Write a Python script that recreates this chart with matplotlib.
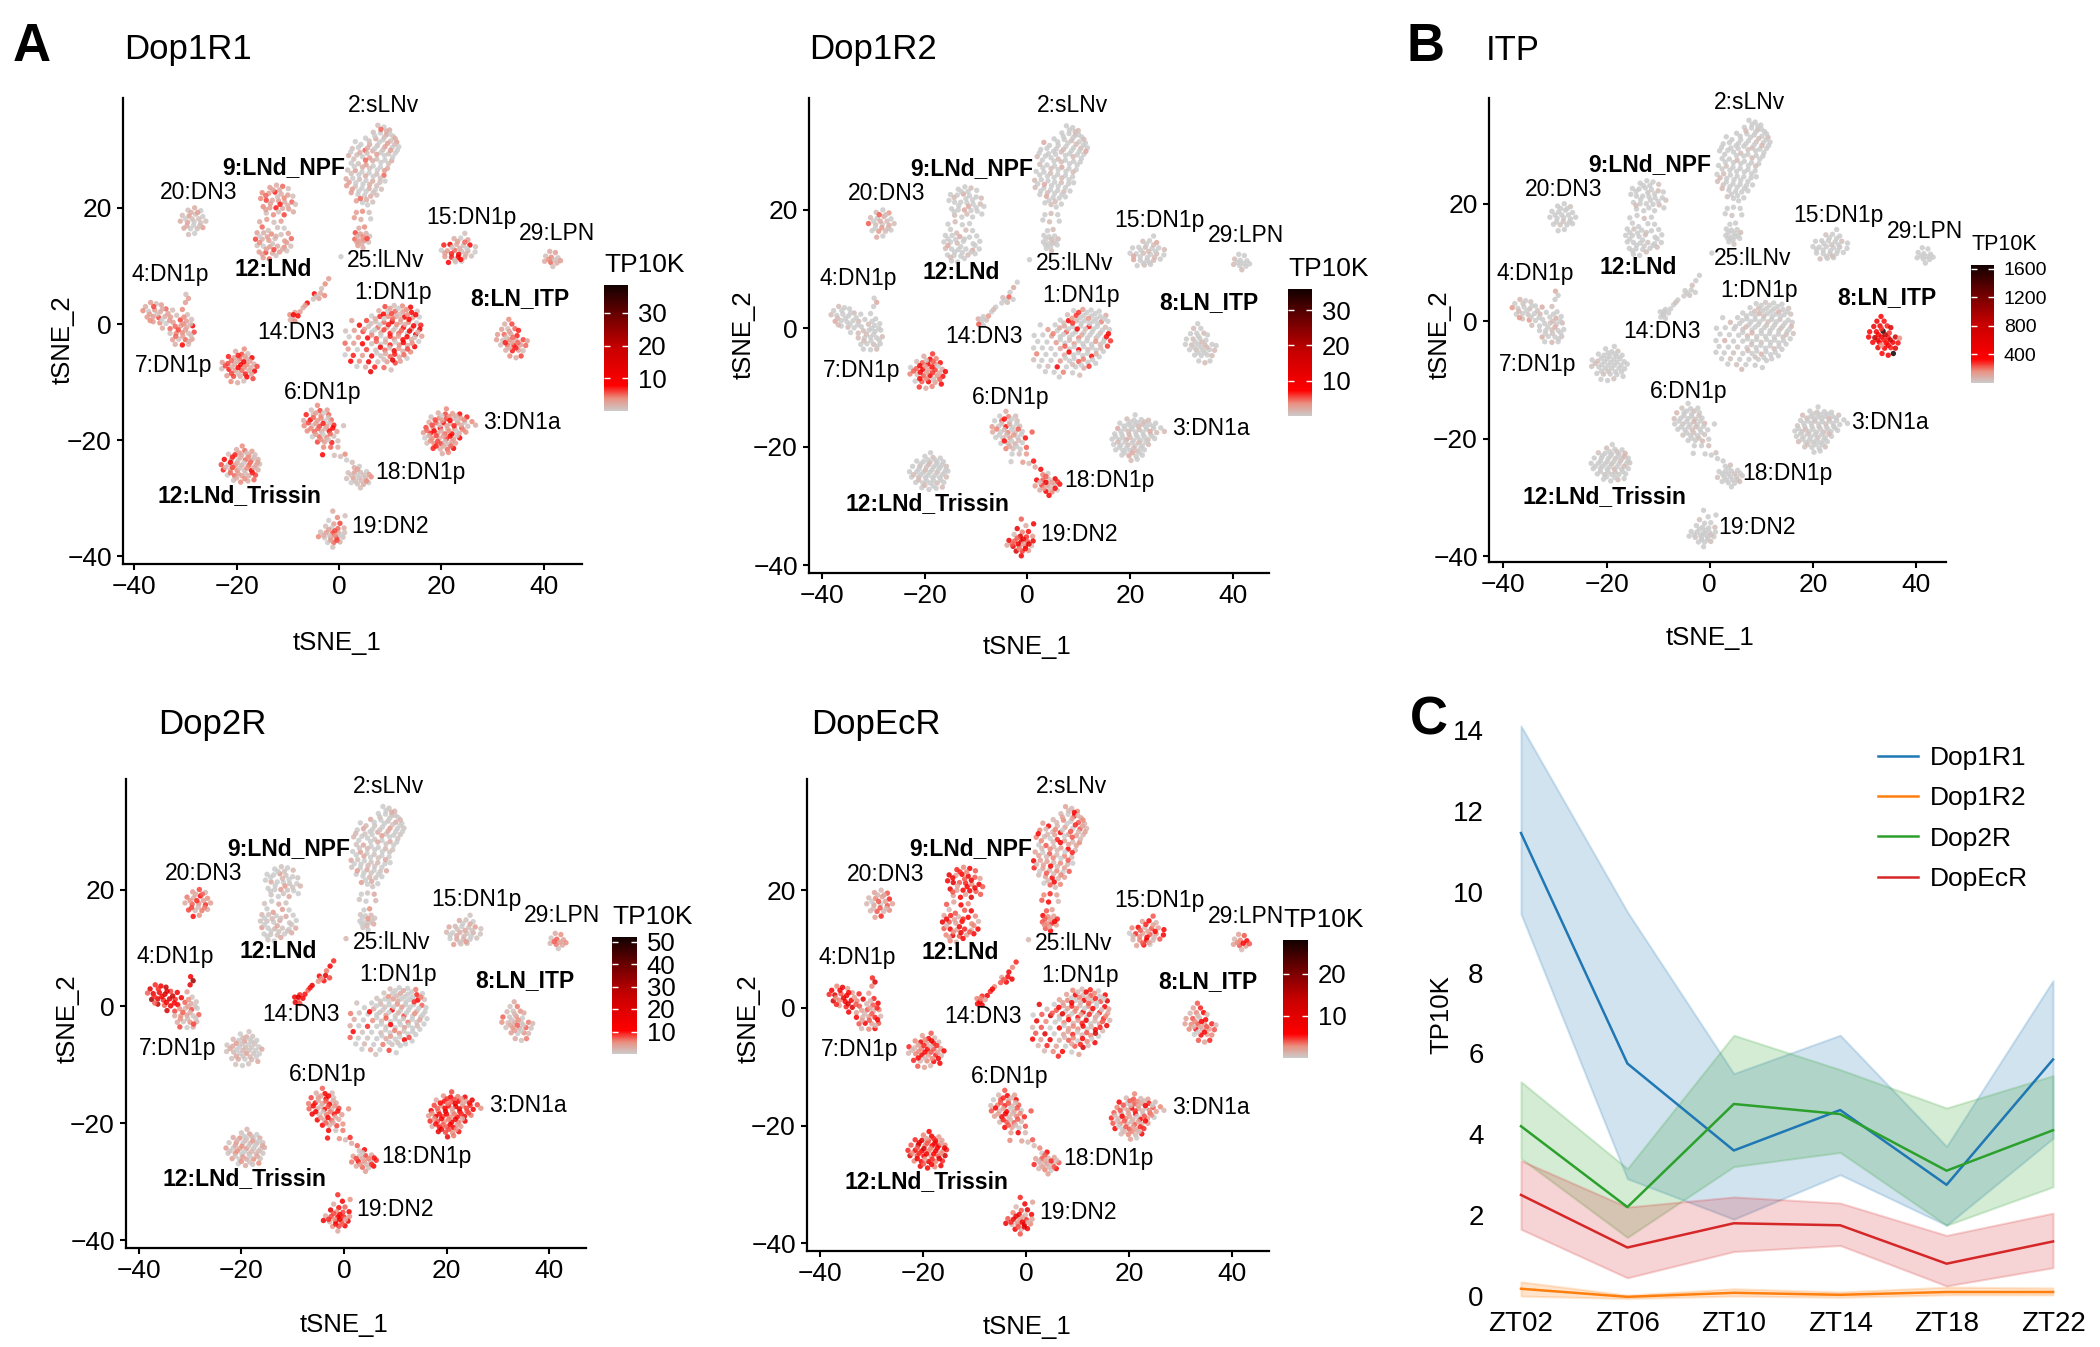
import numpy as np
import matplotlib
matplotlib.use('Agg')
import matplotlib.pyplot as plt
from matplotlib.cm import ScalarMappable
from matplotlib.colors import LinearSegmentedColormap, Normalize

plt.rcParams['font.family'] = ['Liberation Sans', 'DejaVu Sans']

W, H = 2100, 1347

# cells of each cluster
slnv = [(7.6,34.2),(8.8,33.9),(9.9,33.4),(6.7,33.0),(8.1,32.9),(9.3,32.6),(10.6,32.3),(5.2,32.0),(7.2,31.9),(8.6,31.7),(10.1,31.5),(11.3,31.3),(3.2,31.4),(4.3,30.9),(6.0,30.9),(7.5,30.7),(9.0,30.5),(10.4,30.4),(11.7,30.5),(2.6,30.2),(5.1,29.9),(6.6,29.8),(8.2,29.5),(9.7,29.3),(11.0,29.4),(1.9,29.0),(3.5,29.1),(4.6,28.8),(6.0,28.6),(7.4,28.4),(9.0,28.2),(10.3,28.1),(2.4,27.7),(3.8,27.6),(5.3,27.4),(6.7,27.2),(8.1,27.0),(9.5,26.8),(1.7,26.5),(3.2,26.4),(4.5,26.2),(5.9,26.0),(7.4,25.8),(8.8,25.6),(1.4,25.0),(2.7,25.1),(4.0,24.9),(5.3,24.7),(6.6,24.6),(8.0,24.4),(9.0,24.6),(1.5,23.8),(3.2,23.7),(4.5,23.4),(5.9,23.3),(7.1,23.1),(8.3,23.2),(2.4,22.6),(3.7,22.3),(5.0,22.1),(6.2,22.0),(7.4,22.2),(3.4,21.2),(4.6,20.9),(5.6,20.5),(6.6,21.0),
        (8.2,33.5),(9.3,33.2),(7.0,32.4),(8.9,32.2),(10.0,32.7),(11.0,31.9),(5.9,31.5),(7.9,31.3),(9.5,31.1),(10.9,30.9),(3.8,30.4),(5.6,30.3),(7.0,30.2),(8.6,30.0),(10.1,29.9),(11.4,29.9),(2.3,29.6),(4.1,29.5),(5.5,29.4),(7.4,29.2),(8.9,29.0),(10.5,28.7),(2.9,28.4),(5.2,28.2),(6.6,28.1),(8.2,27.8),(9.7,27.6),(3.0,27.1),(4.6,27.0),(6.0,26.8),(7.5,26.5),(8.9,26.4),(2.4,25.9),(3.9,25.7),(5.2,25.5),(6.7,25.4),(8.1,25.1),(2.0,24.4),(3.3,24.3),(4.7,24.1),(6.0,24.0),(7.4,23.8),(2.6,23.2),(3.9,22.9),(5.3,22.8),(6.7,22.6),(4.2,21.6),(5.4,21.4)]
llnv = [(3.4,19.2),(4.6,19.4),(5.9,19.2),(3.0,18.3),(4.3,18.0),(6.2,18.1),(3.9,16.5),(5.0,16.7),(3.2,15.7),(4.2,15.5),(5.3,15.6),(6.0,15.1),(3.1,14.6),(4.1,14.3),(5.0,14.4),(5.8,14.1),(3.7,13.5),(4.7,13.1),(0.4,11.6),(3.6,15.1),(4.7,15),(5.5,14.7),(3.5,14.1),(4.5,13.8)]
npf = [(-13.5,23.5),(-12.2,23.9),(-11,23.7),(-9.9,23.3),(-15,22.6),(-13.7,22.5),(-12.5,22.7),(-11.3,22.4),(-10,22.2),(-9,22),(-15.3,21.6),(-14.2,21.3),(-13,21.3),(-11.8,21.2),(-10.6,21),(-9.2,21),(-8.5,20.6),(-14.8,20.2),(-13.5,20),(-12.3,20),(-11,19.9),(-9.8,19.8),(-14.2,19.1),(-12.8,18.8),(-10.7,18.8),(-8.9,19.3),
       (-12.9,23.1),(-11.6,23.1),(-14.3,22.1),(-12,21.9),(-10.7,21.7),(-13.4,20.7),(-11.5,20.6),(-10,20.4),(-14.3,19.7),(-11.8,19.3)]
lnd = [(-15.5,17.6),(-14.1,18),(-12.7,17.5),(-11.3,17.7),(-15,16.7),(-12,16.6),(-10.7,16.5),(-16,15.7),(-14.7,15.7),(-13.2,15.5),(-11.3,15.4),(-9.9,15.6),(-16.3,14.6),(-15,14.6),(-13.7,14.4),(-12.5,14.7),(-10.6,14.3),(-9.3,14.7),(-16,13.5),(-14.8,13.4),(-13.5,13.3),(-12,13.4),(-10.7,13.2),(-9.4,13.4),(-15.6,12.4),(-14.3,12.3),(-13,12.2),(-11.6,12.4),(-10.2,12.6),(-14.8,11.4),(-13.6,11.2),
       (-13.8,16.1),(-15.5,15.1),(-14,15),(-12.3,15.1),(-15.5,14),(-13,13.8),(-14.2,12.9),(-12.7,12.8),(-11,12.9),(-15,12),(-12.3,11.8),(-10.2,14)]
dn3_20 = [(-29.5,19.6),(-28.2,20),(-27,19.5),(-30.6,18.7),(-29.3,18.6),(-28,18.9),(-26.6,18.5),(-31,17.7),(-29.6,17.5),(-28.3,17.6),(-27,17.4),(-26,17.7),(-30.3,16.5),(-29,16.4),(-27.7,16.4),(-26.6,16.6),(-29.4,15.4),(-28.2,15.6),(-28.9,19.2),(-27.6,19.2),(-30,18.1),(-28.7,18.1),(-27.4,18.1),(-29.7,16.9),(-28.4,17),(-27.2,16.9)]
dn1p_15 = [(24.6,15.6),(22.5,14.7),(23.8,14.8),(25.2,14.5),(20.5,13.6),(21.7,13.7),(23,13.7),(24.3,13.5),(25.6,13.6),(26.7,13.3),(20,12.7),(21.2,12.6),(22.6,12.7),(24,12.5),(25.2,12.6),(26.6,12.4),(20.7,11.6),(22,11.5),(23.3,11.5),(24.6,11.5),(25.9,11.7),(21.4,10.6),(22.8,10.7),(24,10.8),
           (23.2,14.2),(24.6,14.1),(22.1,13.2),(23.6,13),(25,13),(20.7,12.2),(22,12.1),(23.4,12),(24.8,12),(22.6,11),(23.8,11.1)]
lpn = [(41.2,12.5),(42.3,12.3),(40.4,11.7),(41.5,11.5),(42.8,11.4),(40.2,10.8),(41.4,10.6),(42.6,10.5),(43.3,10.9),(41.8,9.9),(41,11.1),(42.1,11)]
dn3_14 = [(-2,7.8),(-2.7,6.9),(-3.4,6.1),(-4.8,5.2),(-3.6,5.3),(-2.8,4.9),(-5,4.3),(-3.9,4.4),(-6.2,3.6),(-7,2.8),(-7.6,2.1),(-8.6,2.0),(-9.6,1.6),(-9,1.1),(-8,1.4),(-9.5,0.7),(-8.6,0.5),(-4.4,4.8),(-6.6,3.2),(-8.9,1.6)]
dn1p_4a = [(-37.8,3),(-36.8,3.7),(-35.7,3.5),(-34.7,3.3),(-38.3,2.3),(-37.2,2.2),(-36,2.4),(-34.9,2.1),(-33.8,2.6),(-32.5,2.4),(-37.5,1.2),(-36.3,1.3),(-35.2,1.1),(-34,1.3),(-32.9,1.2),(-31.7,1.5),(-36.3,0.4),(-35,0.2),(-33.8,0.1),(-32.4,0.3),(-34.5,-0.7),(-33,-0.8),(-29.9,5.1),(-29.4,4.4),(-30,3.7),
           (-36.2,3),(-34.5,2.6),(-37,1.7),(-35.5,1.7),(-33.4,1.8),(-36.9,0.6),(-34.6,0.7),(-33.1,0.6)]
dn1p_4b = [(-30.6,2.5),(-29.6,1.6),(-31,0.7),(-29.8,0.5),(-28.8,0.8),(-32,-0.4),(-30.9,-0.3),(-29.7,-0.5),(-28.6,-0.3),(-33,-1.6),(-31.8,-1.6),(-30.6,-1.5),(-29.4,-1.6),(-28.3,-1.4),(-32.5,-2.7),(-31.3,-2.6),(-30,-2.7),(-28.7,-2.6),(-32,-3.5),(-30.6,-3.6),(-29.4,-3.5),
           (-30.3,1.2),(-30.4,0),(-29,0),(-31.4,-1),(-30,-1),(-28.9,-2),(-31.9,-2.1),(-30.5,-2.1),(-29.3,-3)]
dn1p_7 = [(-18.5,-4.3),(-20.2,-4.7),(-19,-5.2),(-17.8,-5.1),(-21.6,-5.6),(-20.5,-5.8),(-19.4,-6),(-18,-6),(-17,-5.8),(-22.8,-6.6),(-21.7,-6.8),(-20.4,-6.9),(-19.2,-7),(-18,-7),(-16.6,-6.9),(-16,-7.3),(-22.9,-7.7),(-21.5,-7.8),(-20.3,-8),(-19,-8),(-17.6,-8),(-16.5,-8.1),(-21.9,-8.9),(-20.6,-9),(-19.3,-9),(-18,-9.1),(-21.1,-9.9),(-19.8,-10.1),(-16.8,-9.4),(-18.6,-9.8),
          (-19.7,-5.4),(-18.4,-5.6),(-21,-6.3),(-19.9,-6.4),(-18.6,-6.5),(-17.4,-6.4),(-22.2,-7.2),(-20.9,-7.4),(-19.7,-7.5),(-18.5,-7.5),(-17.2,-7.5),(-21,-8.5),(-19.7,-8.5),(-18.3,-8.6),(-17.1,-8.6)]
dn1p_1 = [(9,3),(10.8,3.2),(12.4,3.1),(14,2.9),(7.8,2.3),(9.5,2.2),(11,2.2),(12.5,2.1),(14.2,2),(15.3,2.2),(6.4,1.4),(8,1.3),(9.6,1.3),(11.2,1.3),(12.8,1.2),(14.4,1.1),(15.7,1.2),(5.4,0.6),(7.2,0.4),(8.8,0.3),(10.4,0.4),(12,0.3),(13.6,0.3),(15.2,0.2),(16,-0.2),(2.5,0.6),(4,-0.2),(5.8,-0.4),(7.6,-0.6),(9.4,-0.6),(11,-0.7),(12.6,-0.6),(14.2,-0.8),(15.8,-0.9),(1.3,-1.2),(3,-1.1),(4.7,-1.3),(6.4,-1.4),(8.2,-1.5),(10,-1.6),(11.7,-1.6),(13.4,-1.6),(15,-1.8),(16.2,-2.1),(2,-2.2),(3.8,-2.3),(5.6,-2.4),(7.3,-2.5),(9.1,-2.6),(10.8,-2.6),(12.5,-2.7),(14.2,-2.7),(15.6,-3),(1.2,-3.3),(2.9,-3.3),(4.6,-3.4),(6.4,-3.4),(8.2,-3.5),(10,-3.6),(11.8,-3.6),(13.4,-3.7),(14.8,-3.9),(1.8,-4.3),(3.6,-4.4),(5.4,-4.4),(7.2,-4.5),(9,-4.5),(10.8,-4.6),(12.5,-4.7),(14,-4.8),(1.2,-5.3),(2.8,-5.4),(4.6,-5.4),(6.4,-5.5),(8.2,-5.5),(10,-5.6),(11.8,-5.7),(13.3,-5.9),(2.3,-6.4),(4,-6.4),(5.8,-6.5),(7.6,-6.5),(9.4,-6.5),(11,-6.7),(3.5,-7.3),(5.2,-7.4),(7,-7.4),(8.8,-7.5),(10.2,-7.9),(6.2,-8.2),
          (10,2.7),(11.6,2.7),(13.2,2.5),(8.7,1.7),(10.3,1.8),(11.9,1.7),(13.4,1.6),(15,1.6),(7.1,0.9),(8.8,0.9),(10.5,0.9),(12.1,0.8),(13.7,0.8),(6.3,0.1),(8,-0.1),(9.7,-0.1),(11.3,-0.1),(12.9,-0.1),(14.6,-0.3),(5,-0.9),(7,-1),(8.8,-1),(10.6,-1.1),(12.2,-1.1),(13.8,-1.2),(15.4,-1.4),(6.4,-1.9),(8.2,-2),(10,-2.1),(11.6,-2.1),(13.3,-2.2),(14.8,-2.3),(7.3,-3),(9.1,-3.1),(11,-3.1),(12.6,-3.2),(14.3,-3.3),(8.1,-4),(9.9,-4.1),(11.7,-4.2),(13.4,-4.3),(7.4,-5),(9.1,-5.1),(10.9,-5.2),(12.7,-5.3),(8.8,-6.1),(10.5,-6.2),(12,-6.4)]
ln_itp = [(33.2,0.8),(32.4,0),(33.8,0),(31.8,-0.9),(33,-0.8),(34.4,-0.8),(35.1,-1.1),(31,-1.8),(32.3,-1.8),(33.6,-1.7),(34.8,-2),(30.8,-2.7),(32,-2.8),(33.3,-2.7),(34.6,-2.8),(36,-2.7),(36.8,-2.9),(31.6,-3.6),(32.9,-3.6),(34.2,-3.7),(35.5,-3.6),(36.5,-3.7),(32.6,-4.5),(33.9,-4.6),(35.1,-4.5),(36,-4.6),(33.4,-5.5),(34.6,-5.8),(35.6,-5.5),
          (33.3,-1.3),(32.7,-2.3),(34,-2.3),(32.5,-3.2),(33.8,-3.2),(35,-3.2),(33.3,-4.1),(34.6,-4.1)]
dn1p_6 = [(-4.2,-14),(-5.4,-14.8),(-3.7,-14.9),(-2.3,-14.8),(-6.4,-15.6),(-5,-15.6),(-3.5,-15.8),(-2,-15.6),(-6.9,-16.6),(-5.6,-16.5),(-4.2,-16.6),(-2.8,-16.7),(-1.5,-16.5),(-6.8,-17.5),(-5.2,-17.5),(-3.8,-17.6),(-2.4,-17.6),(-1,-17.4),(0.9,-17.5),(-6.2,-18.4),(-4.8,-18.5),(-3.4,-18.5),(-1.9,-18.4),(-0.4,-18.5),(-5.2,-19.4),(-3.8,-19.4),(-2.4,-19.5),(-1,-19.3),(-4.2,-20.3),(-2.8,-20.3),(-1.4,-20.4),(-0.2,-20.1),(-3,-21.2),(-1.6,-21.2),(-0.2,-21.2),(-3.2,-22.5),
          (-4.5,-15.3),(-3,-15.3),(-5,-16.1),(-3.5,-16.2),(-2.1,-16.1),(-6,-17),(-4.5,-17.1),(-3.1,-17.1),(-1.8,-17),(-5.5,-18),(-4.1,-18),(-2.7,-18),(-1.2,-17.9),(-4.5,-19),(-3.1,-19),(-1.7,-18.9),(-3.5,-19.9),(-2.1,-19.9)]
dn1a = [(21,-14.6),(19.4,-15.3),(20.8,-15.5),(22.2,-15.4),(23.6,-15.5),(18,-16),(19.6,-16.2),(21,-16.3),(22.4,-16.2),(23.8,-16.2),(25,-16),(17.6,-16.9),(19,-17),(20.4,-17),(21.8,-17.1),(23.2,-17),(24.6,-16.9),(26,-16.8),(26.7,-17.4),(17,-17.8),(18.4,-17.9),(19.8,-17.9),(21.2,-18),(22.6,-18),(24,-17.9),(25.2,-17.6),(16.5,-18.7),(17.9,-18.8),(19.3,-18.8),(20.7,-18.9),(22.1,-18.9),(23.5,-18.8),(24.8,-18.6),(16.8,-19.6),(18.2,-19.7),(19.6,-19.7),(21,-19.8),(22.4,-19.8),(23.6,-19.6),(17.2,-20.5),(18.6,-20.6),(20,-20.6),(21.4,-20.7),(22.8,-20.5),(18.4,-21.4),(19.8,-21.5),(21.2,-21.6),(22.4,-21.4),(20.2,-22.3),(21.4,-22.1),
        (20.1,-15.8),(21.5,-15.9),(22.9,-15.8),(18.8,-16.5),(20.2,-16.6),(21.7,-16.6),(23.1,-16.6),(24.5,-16.5),(18.2,-17.4),(19.7,-17.4),(21.1,-17.5),(22.5,-17.5),(23.9,-17.4),(17.2,-18.3),(18.6,-18.4),(20,-18.4),(21.5,-18.4),(22.9,-18.4),(24.3,-18.2),(17.6,-19.2),(19,-19.2),(20.4,-19.3),(21.7,-19.3),(23.1,-19.2),(17.9,-20.1),(19.3,-20.2),(20.7,-20.2),(22.1,-20.2),(19,-21),(20.5,-21),(21.9,-21)]
dn1p_18 = [(-0.9,-22.6),(0.3,-22.8),(1.2,-22.4),(1.5,-23.4),(2.6,-23.8),(3,-24.7),(4,-24.5),(1.8,-25.6),(3,-25.6),(4.2,-25.5),(5.4,-25.4),(1.5,-26.6),(2.8,-26.5),(4,-26.5),(5.2,-26.5),(6.3,-26.3),(2.4,-27.3),(3.6,-27.5),(4.8,-27.6),(5.8,-27.3),(4.2,-28.2),(3.6,-25),(2.4,-26),(3.6,-26),(4.8,-26),(5.9,-25.9),(3.2,-27),(4.4,-27),(5.4,-27)]
trissin = [(-18.9,-21),(-20,-21.6),(-18.4,-21.8),(-17,-21.9),(-21.6,-22.4),(-20.3,-22.5),(-19,-22.6),(-17.6,-22.6),(-16.4,-22.5),(-22.4,-23.3),(-21,-23.3),(-19.7,-23.4),(-18.3,-23.4),(-17,-23.4),(-15.8,-23.3),(-23,-24.2),(-21.6,-24.2),(-20.3,-24.3),(-19,-24.3),(-17.6,-24.3),(-16.2,-24.3),(-15.5,-24.1),(-22.6,-25.1),(-21.2,-25.1),(-19.9,-25.2),(-18.5,-25.2),(-17.1,-25.2),(-15.8,-25.1),(-21.8,-26),(-20.4,-26.1),(-19,-26.1),(-17.6,-26.1),(-16.3,-26),(-20.6,-26.9),(-19.2,-27.2),(-17.8,-27),(-16.6,-26.8),
           (-19.4,-22.2),(-18,-22.2),(-20.8,-22.9),(-19.3,-23),(-17.8,-23),(-16.6,-23),(-21.2,-23.8),(-19.9,-23.9),(-18.6,-23.9),(-17.3,-23.8),(-15.9,-23.8),(-22.2,-24.7),(-20.8,-24.7),(-19.4,-24.8),(-18,-24.8),(-16.6,-24.7),(-21.2,-25.6),(-19.7,-25.7),(-18.3,-25.7),(-16.9,-25.6),(-20,-26.5),(-18.4,-26.6)]
dn2 = [(-1.2,-32.2),(1.2,-33),(-0.3,-33.3),(-2,-33.8),(-1,-34.4),(0.2,-34.3),(-2.6,-34.8),(-1.4,-35.1),(-0.2,-35.2),(1,-35.1),(-3.6,-35.8),(-2.5,-35.9),(-1.2,-36),(0,-36),(1.1,-35.9),(-4,-36.6),(-2.8,-36.8),(-1.6,-36.8),(-0.4,-36.8),(0.8,-36.7),(-2.2,-37.6),(-1,-37.6),(0.2,-37.5),(-1.2,-38.4),(-2,-35.4),(-0.8,-35.6),(-3,-36.4),(-1.8,-36.4),(-0.8,-36.4),(0.3,-36.4),(-1.6,-37.2),(-0.4,-37.2)]

clusters = [slnv, llnv, npf, lnd, dn3_20, dn1p_15, lpn, dn3_14, dn1p_4a, dn1p_4b, dn1p_7, dn1p_1, ln_itp, dn1p_6, dn1a, dn1p_18, trissin, dn2]

# TP10K levels seen in each cluster, same order as clusters
dop1r1 = [
    [1,0,2,1,0,3,1,0,2,0,1,3,0,0,2,1,3,0,0,1,5,2,0],
    [3,4,1,3,2,0,2,4,6,3,2,1,5],
    [3,2,5,1,4,3,7,2,3,1,4,6,2],
    [2,3,1,3,5,1,0,3,2,4,1,3,6],
    [1,2,0,1,3,1,0,2,3,0,1],
    [1,2,0,3,7,11,2,1,8,1,0,3,5],
    [2,3,1,4,1,2,5],
    [3,4,1,8,2,4,1,3,9,2,3],
    [2,3,1,3,4,0,3,2,5,1,3,3,6],
    [4,1,6,3,1,5,3,2,8,1,4],
    [4,2,6,1,7,3,5,2,10,3,6,2,8],
    [6,1,4,9,2,0,5,3,8,1,0,7,4,2,10,3,0,6,1,5,12,2,4,0,7,3,9,1,5,2,0,8,4,11,1,3,6,0,2,7,5,1,13,3,0,4,8],
    [4,2,6,3,1,5,7,3,5,2,7,3,1],
    [4,1,6,3,7,1,4,5,2,8,3,0,5],
    [4,2,6,3,8,1,4,6,1,3,7,2,5,9,2,4,0],
    [1,1,4,0,1,2,0,1,3,1,0,1,3],
    [4,2,5,3,1,7,2,4,1,9,2,0,5,3,2,6,1],
    [2,1,4,0,3,6,1,0,5,2,1,3,6],
]
dop1r2 = [
    [0,0,1,0,0,1,0,0,0,1,0,0,2,0,0,0,0,1,0,0,0,1,0],
    [0,1,0,0,1,0,0,1,0,0,0,1,0],
    [0,0,1,0,0,0,2,0,0,1,0,0,0],
    [0,1,0,0,0,1,0,0,0,2,0,0,0],
    [1,0,3,1,0,2,0,5,1,0,2],
    [0,1,0,2,0,0,1,0,0,1,0,0,1],
    [0,0,1,0,0,1,0],
    [0,2,0,1,5,0,0,1,0,0,3],
    [0,1,0,0,1,0,0,0,1,0,2,0,0],
    [0,0,1,0,0,1,0,0,0,1,0],
    [6,2,8,4,1,5,10,3,7,0,5,9,3],
    [0,3,0,0,1,6,0,0,0,2,0,8,1,0,0,4,0,0,2,0,0,7,0,1,0,0,3,0,5,0,0,0,1,9,0,0,2,0,0,4,0,1,0,6,0,0,3],
    [0,1,0,0,0,1,0,0,1,0,0,0,1],
    [2,0,4,1,0,5,0,1,3,0,7,0,1],
    [0,1,0,0,1,0,0,0,1,0,0,2,0,0,1,0,0],
    [3,1,7,2,9,4,0,8,5,1,11,3,6],
    [0,0,1,0,0,0,1,0,0,0,1,0,0,0,1,0,0],
    [5,10,2,12,4,7,1,14,6,3,9,5,11],
]
dop2r = [
    [0,1,2,0,0,1,0,3,0,1,3,0,0,2,1,0,4,0,1,0,0,3,1],
    [0,1,3,1,0,2,0,5,1,0,2,1,0],
    [0,1,0,2,0,0,4,1,0,1,0,3,0],
    [1,0,3,1,0,4,0,2,1,0,3,0,1],
    [4,8,2,6,3,10,5,3,7,5,9],
    [1,3,1,0,3,2,0,1,4,1,2,0,3],
    [3,5,1,7,4,2,6],
    [9,14,6,11,17,8,5,10,19,7,10],
    [20,9,14,26,7,16,11,22,8,13,32,17,9],
    [4,1,7,3,1,5,2,8,0,3,5],
    [1,0,3,1,2,0,4,1,0,1,3,0,2],
    [2,0,0,6,1,0,3,0,9,0,1,0,4,0,0,11,1,0,2,0,5,0,0,7,0,1,0,3,0,13,0,0,2,0,6,1,0,0,4,0,8,0,1,0,3,0,5],
    [3,1,6,2,1,5,3,7,1,4,0,5,2],
    [7,3,11,2,8,5,14,1,6,10,4,12,3],
    [8,5,11,6,15,3,10,7,12,4,17,8,5,10,14,6,9],
    [5,2,9,3,7,1,11,4,1,8,3,6,10],
    [2,1,4,0,3,5,1,0,3,1,5,0,2],
    [9,5,14,3,10,7,18,5,8,12,3,8,11],
]
dopecr = [
    [2,1,3,1,0,5,2,1,3,0,4,1,2,6,1,2,0,4,1,3,1,7,2],
    [3,5,2,4,6,1,4,2,7,3,2,5,4],
    [5,3,7,4,9,2,6,8,4,2,6,10,4],
    [4,2,6,3,1,4,7,2,5,1,6,3,9],
    [2,1,4,1,3,2,5,1,2,0,4],
    [4,2,6,1,3,7,1,4,2,6,0,5,2],
    [2,4,1,3,6,2,4],
    [5,3,8,2,6,9,4,7,3,5,7],
    [6,3,9,2,5,11,4,7,2,5,12,3,6],
    [2,5,1,4,7,2,4,1,3,6,1],
    [4,2,6,1,3,8,2,5,1,5,1,3,6],
    [3,1,5,0,2,8,1,4,0,6,2,3,0,7,1,4,10,0,2,5,1,3,0,6,2,9,1,4,0,3,7,1,5,2,0,4,12,1,3,6,0,2,5,1,8,3,0],
    [4,2,5,1,3,6,1,2,4,0,6,2,3],
    [4,1,6,2,0,4,2,7,1,3,5,1,4],
    [3,1,4,1,2,6,0,4,2,5,1,3,1,7,2,0,4],
    [2,1,4,1,3,0,6,2,4,1,2,5,1],
    [6,3,8,2,5,11,4,7,2,4,12,3,6,9,3,5,8],
    [5,2,8,1,4,10,3,7,1,6,4,9,2],
]
itp = [
    [0,0,0,0,0,40,0,0,0,0,0,60,0,0,0,0,30,0,0,0,0,0,50],
    [0,0,0,0,30,0,0,0,0,0,0,40,0],
    [0,0,0,30,0,0,0,0,50,0,0,0,0],
    [0,0,40,0,0,0,0,0,30,0,0,0,0],
    [0,0,30,0,0,0,0,0,0,0,0],
    [0,30,0,0,0,0,0,0,40,0,0,0,0],
    [0,0,0,0,0,0,0],
    [0,0,40,0,0,0,0,30,0,0,0],
    [0,60,0,30,140,0,0,40,0,90,0,0,30],
    [40,0,0,80,0,0,30,0,60,0,0],
    [0,0,0,30,0,0,0,0,0,0,40,0,0],
    [0,30,0,0,0,50,0,0,0,30,0,0,70,0,0,0,30,0,0,0,0],
    [360,450,320,520,400,300,650,340,430,1650,280,390,900,480,310,750,150,370,330],
    [0,30,0,0,60,0,0,0,40,0,0,30,0],
    [0,0,30,0,0,50,0,0,0,0,30,0,0,40,0,0,0],
    [0,0,30,0,0,0,40,0,0,0,0,30,0],
    [0,40,0,0,30,0,0,0,60,0,0,0,30,0,0,0,0],
    [0,0,0,30,0,0,0,0,0,40,0,0,0],
]

# cluster names and where they sit in tSNE space
label_names = ['2:sLNv','9:LNd_NPF','20:DN3','15:DN1p','29:LPN','25:lLNv','12:LNd','4:DN1p','1:DN1p','8:LN_ITP','14:DN3','7:DN1p','6:DN1p','3:DN1a','18:DN1p','12:LNd_Trissin','19:DN2']
label_x = [8.7,-10.8,-27.4,25.8,42.6,9.2,-12.9,-32.9,10.5,35.3,-8.4,-32.4,-3.2,35.8,16,-19.5,10]
label_y = [37.6,27,22.7,18.3,15.6,11,9.4,8.5,5.5,4.4,-1.4,-7.1,-11.7,-16.9,-25.6,-29.5,-34.8]
bold_labels = ['9:LNd_NPF','12:LNd','8:LN_ITP','12:LNd_Trissin']

# panel C
zt = ['ZT02','ZT06','ZT10','ZT14','ZT18','ZT22']
line_names = ['Dop1R1','Dop1R2','Dop2R','DopEcR']
line_colors = ['#1f77b4','#ff7f0e','#2ca02c','#d62728']
mean_dop1r1 = [11.45,5.75,3.6,4.6,2.75,5.85]
low_dop1r1 = [9.45,2.9,1.9,3.0,1.75,3.9]
high_dop1r1 = [14.1,9.5,5.5,6.45,3.7,7.8]
mean_dop1r2 = [0.18,-0.02,0.08,0.03,0.1,0.1]
low_dop1r2 = [0.0,-0.06,0.0,-0.03,0.03,0.03]
high_dop1r2 = [0.35,0.02,0.18,0.1,0.22,0.2]
mean_dop2r = [4.2,2.2,4.75,4.5,3.1,4.1]
low_dop2r = [3.4,1.45,3.2,3.55,1.75,2.7]
high_dop2r = [5.3,3.15,6.45,5.6,4.65,5.45]
mean_dopecr = [2.5,1.2,1.8,1.75,0.8,1.35]
low_dopecr = [1.65,0.45,1.1,1.25,0.25,0.7]
high_dopecr = [3.35,2.2,2.45,2.3,1.5,2.05]

cmap = LinearSegmentedColormap.from_list('tp10k', [(0,'#cbcbcb'),(0.1,'#ea8f80'),(0.2,'#ff0000'),(0.5,'#c80000'),(0.75,'#700000'),(1,'#120000')])

fig = plt.figure(figsize=(W/100, H/100), dpi=100)


def px_axes(left, top, right, bottom):
    return fig.add_axes([left/W, 1-bottom/H, (right-left)/W, (bottom-top)/H])


def tsne_panel(rect, levels, vmax, title, title_xy, bar, bar_ticks, xlabel_xy, ylabel_xy,
               xlim=(-42.2,47.5), ylim=(-41.3,38.9), legend_size=19, tick_size=18.5, label_shift=(0,0)):
    ax = px_axes(*rect)
    norm = Normalize(0, vmax)
    for pts, lev in zip(clusters, levels):
        pts = np.array(pts)
        vals = np.resize(lev, len(pts))
        ax.scatter(pts[:,0], pts[:,1], c=vals, cmap=cmap, norm=norm, s=15, linewidths=0, alpha=0.85)
    ax.set_xlim(*xlim)
    ax.set_ylim(*ylim)
    ax.set_xticks([-40,-20,0,20,40])
    ax.set_yticks([-40,-20,0,20])
    ax.tick_params(labelsize=19, length=4, width=1.5, pad=4)
    for s in ['top','right']:
        ax.spines[s].set_visible(False)
    for s in ['left','bottom']:
        ax.spines[s].set_linewidth(1.6)
    fig.text(xlabel_xy[0]/W, 1-xlabel_xy[1]/H, 'tSNE_1', fontsize=18.5, ha='center', va='center')
    fig.text(ylabel_xy[0]/W, 1-ylabel_xy[1]/H, 'tSNE_2', fontsize=18.5, ha='center', va='center', rotation=90)
    for name, x, y in zip(label_names, label_x, label_y):
        ax.text(x+label_shift[0], y+label_shift[1], name, ha='center', va='center', fontsize=16.5, clip_on=False,
                fontweight='bold' if name in bold_labels else 'normal')
    fig.text(title_xy[0]/W, 1-title_xy[1]/H, title, fontsize=25, ha='left', va='center')
    cax = px_axes(*bar)
    cb = fig.colorbar(ScalarMappable(norm=norm, cmap=cmap), cax=cax)
    cb.outline.set_visible(False)
    cb.set_ticks(bar_ticks)
    cax.tick_params(length=4, width=1, color='white', direction='in', labelsize=tick_size, pad=7, left=True, right=True)
    fig.text(bar[0]/W, 1-(bar[1]-20)/H, 'TP10K', fontsize=legend_size, ha='left', va='center')
    return ax


tsne_panel((123,98,582,564), dop1r1, 38.5, 'Dop1R1', (124,50), (604,285,628,411), [10,20,30], (337,643), (63,340))
tsne_panel((809,98,1269,573), dop1r2, 36, 'Dop1R2', (809,50), (1288,289,1312,416), [10,20,30], (1027,647), (744,335), xlim=(-42.6,47.1))
tsne_panel((1489,98,1946,562), itp, 1650, 'ITP', (1486,50), (1971,265,1994,383), [400,800,1200,1600], (1710,638), (1440,335),
           xlim=(-42.8,45.8), ylim=(-41.0,38.0), legend_size=15.5, tick_size=14, label_shift=(-0.9,-0.3))
tsne_panel((126,779,586,1248), dop2r, 52, 'Dop2R', (158,725), (612,937,637,1054), [10,20,30,40,50], (344,1325), (68,1019), xlim=(-42.5,47.2))
tsne_panel((807,779,1269,1251), dopecr, 28, 'DopEcR', (811,725), (1283,940,1308,1058), [10,20], (1027,1327), (749,1019), xlim=(-42.6,47.1))

for letter, x, y in [('A',32,47),('B',1426,47),('C',1429,720)]:
    fig.text(x/W, 1-y/H, letter, fontsize=38, fontweight='bold', ha='center', va='center')

# panel C
axc = px_axes(1521, 717, 2053, 1311)
xs = np.arange(len(zt))
means = [mean_dop1r1, mean_dop1r2, mean_dop2r, mean_dopecr]
lows = [low_dop1r1, low_dop1r2, low_dop2r, low_dopecr]
highs = [high_dop1r1, high_dop1r2, high_dop2r, high_dopecr]
for name, color, m, lo, hi in zip(line_names, line_colors, means, lows, highs):
    axc.fill_between(xs, lo, hi, color=color, alpha=0.2, linewidth=1.5, clip_on=False)
    axc.plot(xs, m, color=color, lw=1.8, label=name, clip_on=False)
axc.set_xlim(0, 5)
axc.set_ylim(-0.37, 14.32)
axc.set_xticks(xs)
axc.set_xticklabels(zt)
axc.set_yticks([0,2,4,6,8,10,12,14])
axc.tick_params(axis='x', length=0, labelsize=20, pad=0)
axc.tick_params(axis='y', length=0, labelsize=20, pad=27)
for s in axc.spines.values():
    s.set_visible(False)
fig.text(1441/W, 1-1015/H, 'TP10K', fontsize=18.5, rotation=90, ha='center', va='center')
axc.legend(loc='upper left', bbox_to_anchor=(1878/W, 1-746/H), bbox_transform=fig.transFigure,
           frameon=False, fontsize=19, handlelength=1.5, labelspacing=0.62, handletextpad=0.45,
           borderaxespad=0, borderpad=0)

fig.savefig('out.png', dpi=100)
